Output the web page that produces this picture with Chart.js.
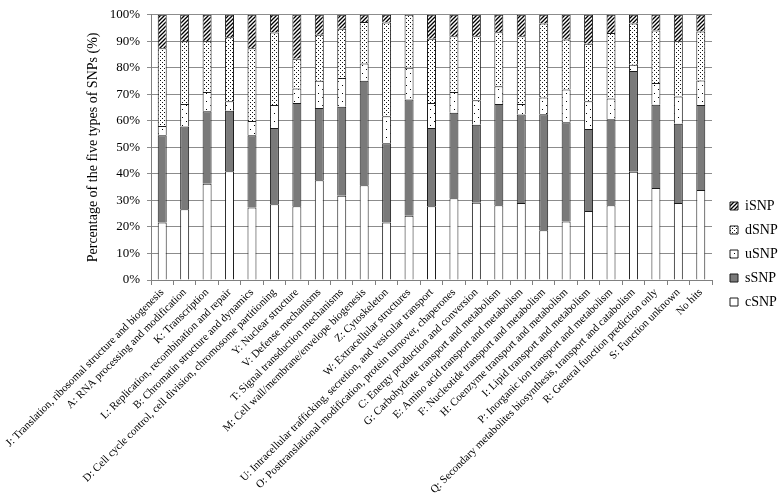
<!DOCTYPE html>
<html><head><meta charset="utf-8">
<script src="https://cdn.jsdelivr.net/npm/chart.js@4"></script>
<style>html,body{margin:0;padding:0;background:#fff}</style>
</head><body>
<canvas id="c" width="778" height="502"></canvas>
<script>
const categories = [
  "J: Translation, ribosomal structure and biogenesis",
  "A: RNA processing and modification",
  "K: Transcription",
  "L: Replication, recombination and repair",
  "B: Chromatin structure and dynamics",
  "D: Cell cycle control, cell division, chromosome partitioning",
  "Y: Nuclear structure",
  "V: Defense mechanisms",
  "T: Signal transduction mechanisms",
  "M: Cell wall/membrane/envelope biogenesis",
  "Z: Cytoskeleton",
  "W: Extracellular structures",
  "U: Intracellular trafficking, secretion, and vesicular transport",
  "O: Posttranslational modification, protein turnover, chaperones",
  "C: Energy production and conversion",
  "G: Carbohydrate transport and metabolism",
  "E: Amino acid transport and metabolism",
  "F: Nucleotide transport and metabolism",
  "H: Coenzyme transport and metabolism",
  "I: Lipid transport and metabolism",
  "P: Inorganic ion transport and metabolism",
  "Q: Secondary metabolites biosynthesis, transport and catabolism",
  "R: General function prediction only",
  "S: Function unknown",
  "No hits"
];
const cSNP = [21.7,26.7,36.3,41.0,27.3,28.6,27.8,37.6,31.8,35.7,21.7,24.2,27.8,30.8,29.1,28.2,29.0,18.8,22.1,26.0,28.2,40.8,34.7,29.0,33.9];
const sSNP = [32.9,31.2,27.3,22.8,27.3,28.7,38.9,27.3,33.5,39.4,29.9,43.9,29.5,32.3,29.4,38.2,33.4,43.7,37.4,30.9,32.4,38.0,31.4,29.9,32.1];
const uSNP = [3.5,8.5,7.3,3.6,5.4,8.7,5.5,10.2,10.9,6.5,10.1,11.9,9.4,7.8,9.3,6.7,4.0,6.3,12.3,10.5,7.8,2.4,8.2,10.3,9.2];
const dSNP = [29.3,23.6,19.1,24.1,27.4,27.3,11.2,17.4,18.5,15.7,35.4,20.0,24.3,21.0,24.1,20.3,25.5,27.9,18.9,21.7,24.7,15.5,19.8,20.8,18.5];
const iSNP = [12.6,10.0,10.0,8.5,12.6,6.7,16.6,7.5,5.3,2.7,2.9,0,9.0,8.1,8.1,6.6,8.1,3.3,9.3,10.9,6.9,3.3,5.9,10.0,6.3];
const yTicks = [0,10,20,30,40,50,60,70,80,90,100];

const canvas = document.getElementById('c');
const ctx = canvas.getContext('2d');
function makeTile(w,h,draw){
  const t=document.createElement('canvas');t.width=w;t.height=h;
  const g=t.getContext('2d');g.fillStyle='#fff';g.fillRect(0,0,w,h);draw(g);
  return ctx.createPattern(t,'repeat');
}
const uPat = makeTile(8,8,g=>{g.fillStyle='#000';g.fillRect(2,1,1,1);g.fillRect(6,5,1,1);});
const dPat = makeTile(4,4,g=>{g.fillStyle='#111';g.fillRect(0,0,1,1);g.fillRect(2,2,1,1);});
const iPat = makeTile(4,4,g=>{g.strokeStyle='#000';g.lineWidth=1.3;g.beginPath();
  g.moveTo(-1,5);g.lineTo(5,-1);g.moveTo(-1,1);g.lineTo(1,-1);g.moveTo(3,5);g.lineTo(5,3);g.stroke();});

const FONT = "'Liberation Serif', 'Times New Roman', serif";
const common = {borderColor:'#1a1a1a', borderWidth:1, barPercentage:0.4, categoryPercentage:1.0, stack:'s'};
const shiftLegend = {id:'shiftLegend', afterLayout(c){ if(c.legend){ c.legend.left += 8; c.legend.right += 8; } }};
new Chart(ctx, {
  type:'bar',
  data:{
    labels: categories,
    datasets:[
      Object.assign({label:'cSNP', data:cSNP, backgroundColor:'#ffffff'}, common),
      Object.assign({label:'sSNP', data:sSNP, backgroundColor:'#7a7a7a'}, common),
      Object.assign({label:'uSNP', data:uSNP, backgroundColor:uPat}, common),
      Object.assign({label:'dSNP', data:dSNP, backgroundColor:dPat}, common),
      Object.assign({label:'iSNP', data:iSNP, backgroundColor:iPat}, common)
    ]
  },
  plugins:[shiftLegend],
  options:{
    responsive:false, animation:false,
    layout:{padding:{top:6,left:0,right:0,bottom:0}},
    plugins:{
      tooltip:{enabled:false},
      legend:{position:'right', reverse:true, maxWidth:66,
        labels:{font:{family:FONT,size:14}, color:'#000', boxWidth:8, boxHeight:8, padding:10}}
    },
    scales:{
      x:{stacked:true,
        grid:{display:true, drawOnChartArea:false, drawTicks:true, tickLength:5, color:'#808080', offset:true},
        border:{color:'#808080', width:1},
        ticks:{autoSkip:false, maxRotation:45, minRotation:45, padding:1, color:'#000', font:{family:FONT,size:11}},
        afterFit:(s)=>{s.height=222; s.paddingLeft=0; s.paddingRight=0;}
      },
      y:{stacked:true, min:0, max:100,
        afterBuildTicks:(s)=>{s.ticks = yTicks.map(v=>({value:v}));},
        grid:{color:'#8c8c8c', lineWidth:1, tickLength:4},
        border:{color:'#808080', width:1},
        ticks:{padding:7, color:'#000', font:{family:FONT,size:13}, callback:(v)=>v+'%'},
        title:{display:true, text:'Percentage of the five types of SNPs (%)', color:'#000',
          font:{family:FONT,size:14}, padding:{top:85,bottom:0}},
        afterFit:(s)=>{s.width=151;}
      }
    }
  }
});
</script>
</body></html>
